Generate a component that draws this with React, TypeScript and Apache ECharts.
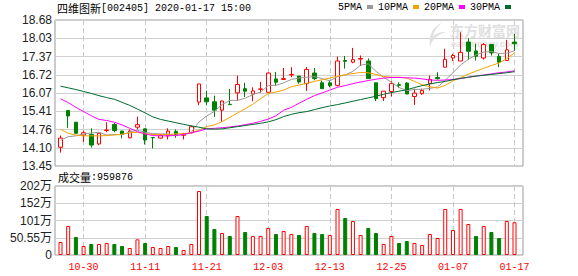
import React, { useEffect, useRef } from 'react';
import * as echarts from 'echarts';

const dates = ['10-25','10-28','10-29','10-30','10-31','11-01','11-04','11-05','11-06','11-07','11-08','11-11','11-12','11-13','11-14','11-15','11-18','11-19','11-20','11-21','11-22','11-25','11-26','11-27','11-28','11-29','12-02','12-03','12-04','12-05','12-06','12-09','12-10','12-11','12-12','12-13','12-16','12-17','12-18','12-19','12-20','12-23','12-24','12-25','12-26','12-27','12-30','12-31','01-02','01-03','01-06','01-07','01-08','01-09','01-10','01-13','01-14','01-15','01-16','01-17'];

const openP = [14.12,15.44,15.02,14.56,14.58,14.24,14.72,14.94,14.70,14.46,14.84,14.78,14.47,14.45,14.53,14.69,14.55,14.64,15.74,15.89,15.75,15.45,15.66,16.07,16.22,16.03,16.20,16.09,16.57,16.55,16.71,16.67,16.40,16.78,16.43,16.43,16.34,17.23,17.17,17.28,17.21,16.43,15.90,16.12,16.36,16.42,15.94,16.04,16.40,16.62,16.99,17.32,17.21,17.89,17.57,17.32,17.80,17.38,17.23,17.89];
const closeP = [14.45,15.24,14.62,14.64,14.20,14.62,14.74,14.72,14.58,14.70,14.93,14.38,14.46,14.55,14.70,14.59,14.60,14.86,16.39,15.75,15.45,15.78,15.65,16.37,16.13,16.14,16.21,16.78,16.45,16.58,16.73,16.46,16.91,16.58,16.22,16.33,17.21,17.20,17.26,17.30,16.58,15.86,16.13,16.40,16.34,16.03,16.06,16.16,16.55,16.58,17.27,17.41,17.52,17.56,17.38,17.80,17.50,17.17,17.61,17.83];
const highP = [14.54,15.45,15.03,14.72,14.80,14.63,15.02,15.00,14.71,14.76,15.22,14.79,14.47,14.59,14.80,14.76,14.64,14.90,16.40,16.15,15.97,15.79,16.21,16.69,16.43,16.27,16.46,16.80,16.82,16.96,16.99,16.68,17.00,16.96,16.51,16.51,17.37,17.39,17.68,17.41,17.30,16.43,16.13,16.49,16.45,16.45,16.22,16.22,16.69,16.81,17.65,17.47,18.24,18.03,17.83,17.85,17.81,17.47,17.97,18.18];
const lowP = [13.93,14.82,14.62,14.31,14.11,14.20,14.66,14.66,14.44,14.44,14.76,14.22,14.08,14.44,14.40,14.46,14.40,14.62,15.63,15.63,15.21,15.03,15.63,15.80,15.92,15.77,16.07,16.08,16.31,16.54,16.63,16.40,16.14,16.52,16.22,16.27,16.30,16.94,17.13,17.03,16.57,15.78,15.78,15.94,16.24,16.02,15.64,16.00,16.16,16.54,16.99,17.21,17.21,17.27,17.23,17.26,17.41,16.99,17.23,17.57];

const volumes = [381000,850000,527000,264000,322000,322000,352000,322000,264000,205000,459000,352000,234000,205000,264000,234000,147000,322000,1875000,1143000,762000,645000,557000,1143000,674000,557000,557000,791000,615000,703000,615000,586000,850000,645000,615000,586000,1348000,1084000,996000,586000,791000,645000,322000,557000,352000,410000,352000,293000,615000,498000,1348000,733000,1348000,908000,557000,850000,674000,498000,996000,959876];

const ma5 = [14.37,14.50,14.53,14.60,14.63,14.66,14.56,14.58,14.57,14.67,14.73,14.66,14.61,14.60,14.60,14.54,14.58,14.66,15.03,15.24,15.41,15.65,15.80,15.80,15.88,16.01,16.10,16.33,16.34,16.43,16.55,16.60,16.63,16.65,16.58,16.50,16.65,16.71,16.84,17.06,17.11,16.84,16.63,16.45,16.26,16.15,16.19,16.20,16.23,16.28,16.52,16.79,17.07,17.27,17.43,17.53,17.55,17.48,17.49,17.58];
const ma10 = [14.77,14.62,14.56,14.53,14.53,14.53,14.54,14.56,14.59,14.64,14.66,14.61,14.58,14.57,14.58,14.60,14.61,14.64,14.74,14.86,14.92,15.04,15.19,15.35,15.50,15.66,15.86,16.05,16.10,16.17,16.29,16.35,16.41,16.48,16.54,16.60,16.67,16.72,16.76,16.80,16.79,16.73,16.66,16.63,16.63,16.60,16.48,16.36,16.29,16.24,16.34,16.50,16.62,16.74,16.85,16.95,17.05,17.14,17.30,17.50];
const ma20 = [15.86,15.72,15.55,15.40,15.25,15.12,15.08,15.02,14.92,14.80,14.68,14.60,14.54,14.53,14.53,14.55,14.58,14.64,14.70,14.78,14.80,14.82,14.85,14.88,14.93,14.98,15.05,15.13,15.25,15.45,15.55,15.70,15.84,15.97,16.07,16.17,16.27,16.33,16.40,16.46,16.51,16.56,16.60,16.62,16.62,16.61,16.60,16.57,16.53,16.52,16.53,16.55,16.58,16.63,16.67,16.71,16.75,16.79,16.82,16.86];
const ma30 = [16.31,16.25,16.19,16.12,16.05,15.97,15.90,15.84,15.73,15.62,15.49,15.35,15.21,15.12,15.06,15.00,14.94,14.89,14.84,14.78,14.77,14.78,14.82,14.86,14.90,14.94,14.98,15.03,15.11,15.22,15.30,15.36,15.40,15.47,15.54,15.60,15.65,15.71,15.77,15.83,15.89,15.95,16.02,16.08,16.13,16.18,16.26,16.33,16.39,16.44,16.48,16.54,16.59,16.63,16.67,16.70,16.73,16.76,16.79,16.83];

const priceTicks = ['13.45','14.10','14.76','15.41','16.07','16.72','17.37','18.03','18.68'];
const volTicks = ['0','50.55万','101万','152万','202万'];
const maNames = ['5PMA','10PMA','20PMA','30PMA'];
const maColors = ['#999999','#F4A300','#FF00FF','#006B2E'];
const stockName = '四维图新';
const stockInfo = '[002405] 2020-01-17 15:00';

const RED = '#FF0000';
const GREEN = '#008000';
const MONO = "'Liberation Mono', monospace";
const CJK = "'Noto Sans CJK SC'";
const SANS = "'Liberation Sans', 'Noto Sans CJK SC'";

export default function App() {
  const ref = useRef<HTMLDivElement>(null);
  useEffect(() => {
    document.body.style.margin = '0';
    const el = ref.current!;
    const logoPath = 'M15 0 C7 3 1 11 3 24 C5 17 9 12 19 9 C12 9 8 11 6 14 C7 8 10 4 15 0 Z';
    echarts.graphic.registerShape('emLogo', echarts.graphic.extendPath(logoPath, {}) as any);
    const chart = echarts.init(el, null, { renderer: 'svg' });

    const tickFn = (i: number) => i % 8 === 3;
    const maSeries = [ma5, ma10, ma20, ma30];

    const candleData = dates.map((_, i) => [openP[i], closeP[i], lowP[i], highP[i]]);
    const volData = volumes.map((v, i) => {
      const up = i === 0 || closeP[i] >= closeP[i - 1];
      return {
        value: v,
        itemStyle: up
          ? { color: '#ffffff', borderColor: RED, borderWidth: 1 }
          : { color: GREEN, borderColor: GREEN, borderWidth: 1 },
      };
    });

    const dataLeft = 60.5;
    const dataWidth = 454;

    const option: any = {
      animation: false,
      textStyle: { fontFamily: SANS },
      legend: {
        data: maNames,
        left: 338,
        top: 2,
        padding: 0,
        align: 'right',
        icon: 'rect',
        itemWidth: 6,
        itemHeight: 4,
        itemGap: 5,
        selectedMode: false,
        textStyle: { fontFamily: MONO, fontSize: 10, color: '#000' },
      },
      graphic: [
        { type: 'text', x: 57, y: 8, z: 10, style: { text: stockName, fontFamily: CJK, fontSize: 11, fill: '#000', verticalAlign: 'middle' } },
        { type: 'text', x: 101, y: 8, z: 10, style: { text: stockInfo, fontFamily: MONO, fontSize: 10, fill: '#000', verticalAlign: 'middle' } },
        { type: 'text', x: 58, y: 177, z: 10, style: { text: '成交量', fontFamily: CJK, fontSize: 11, fill: '#000', verticalAlign: 'middle' } },
        { type: 'text', x: 91, y: 177, z: 10, style: { text: ':' + volumes[volumes.length - 1], fontFamily: MONO, fontSize: 10, fill: '#000', verticalAlign: 'middle' } },
        { type: 'emLogo', x: 427, y: 23, scaleX: 1, scaleY: 1, z: 1, style: { fill: '#e0e0e0' } },
        { type: 'text', x: 450, y: 23, z: 1, style: { text: '东方财富网', fontFamily: CJK, fontSize: 14, fontWeight: 'bold', fill: '#e0e0e0' } },
        { type: 'text', x: 451, y: 39, z: 1, style: { text: 'eastmoney.com', fontFamily: "'Liberation Sans'", fontSize: 9, fontWeight: 'bold', fill: '#e0e0e0' } },
      ],
      grid: [
        { left: 55, top: 20, width: 468, height: 146, show: true, borderColor: '#999', borderWidth: 1, backgroundColor: 'transparent', containLabel: false, outerBoundsMode: 'none' },
        { left: dataLeft, top: 20, width: dataWidth, height: 146, containLabel: false, outerBoundsMode: 'none' },
        { left: 55, top: 186, width: 468, height: 69, show: true, borderColor: '#999', borderWidth: 1, backgroundColor: 'transparent', containLabel: false, outerBoundsMode: 'none' },
        { left: dataLeft, top: 186, width: dataWidth, height: 69, containLabel: false, outerBoundsMode: 'none' },
      ],
      xAxis: [
        { gridIndex: 0, type: 'value', min: 0, max: 1, show: false },
        {
          gridIndex: 1, type: 'category', data: dates, boundaryGap: false,
          axisLine: { show: false }, axisTick: { show: false }, axisLabel: { show: false },
          splitLine: { show: true, interval: tickFn, lineStyle: { color: '#c8c8c8', type: [5, 3], width: 1 } },
        },
        { gridIndex: 2, type: 'value', min: 0, max: 1, show: false },
        {
          gridIndex: 3, type: 'category', data: dates, boundaryGap: false,
          axisLine: { show: false }, axisTick: { show: false },
          axisLabel: { show: true, interval: tickFn, color: RED, fontFamily: MONO, fontSize: 10, margin: 7 },
          splitLine: { show: true, interval: tickFn, lineStyle: { color: '#c8c8c8', type: [5, 3], width: 1 } },
        },
      ],
      yAxis: [
        {
          gridIndex: 0, type: 'value', min: 0, max: 8, interval: 1,
          axisLine: { show: false }, axisTick: { show: false },
          axisLabel: { formatter: (v: number) => priceTicks[Math.round(v)], color: '#222', fontFamily: SANS, fontSize: 12, margin: 3 },
          splitLine: { show: true, lineStyle: { color: '#d0d0d0', width: 1 } },
        },
        { gridIndex: 1, type: 'value', min: 13.45, max: 18.68, show: false },
        {
          gridIndex: 2, type: 'value', min: 0, max: 4, interval: 1,
          axisLine: { show: false }, axisTick: { show: false },
          axisLabel: { formatter: (v: number) => volTicks[Math.round(v)], color: '#222', fontFamily: SANS, fontSize: 12, margin: 3 },
          splitLine: { show: true, lineStyle: { color: '#d0d0d0', width: 1 } },
        },
        { gridIndex: 3, type: 'value', min: 0, max: 2022000, show: false },
      ],
      series: [
        {
          type: 'candlestick', xAxisIndex: 1, yAxisIndex: 1, data: candleData,
          barWidth: 4, clip: false, silent: true,
          itemStyle: { color: '#ffffff', color0: GREEN, borderColor: RED, borderColor0: GREEN, borderWidth: 1 },
        },
        ...maNames.map((name, k) => ({
          name, type: 'line', xAxisIndex: 1, yAxisIndex: 1, data: maSeries[k],
          symbol: 'none', showSymbol: false, clip: false, silent: true,
          color: maColors[k], itemStyle: { color: maColors[k] },
          lineStyle: { color: maColors[k], width: 1 },
        })),
        {
          type: 'bar', xAxisIndex: 3, yAxisIndex: 3, data: volData,
          barWidth: 4, clip: false, silent: true,
        },
      ],
    };
    chart.setOption(option);
    return () => chart.dispose();
  }, []);
  return <div ref={ref} style={{ width: 578, height: 276 }} />;
}
